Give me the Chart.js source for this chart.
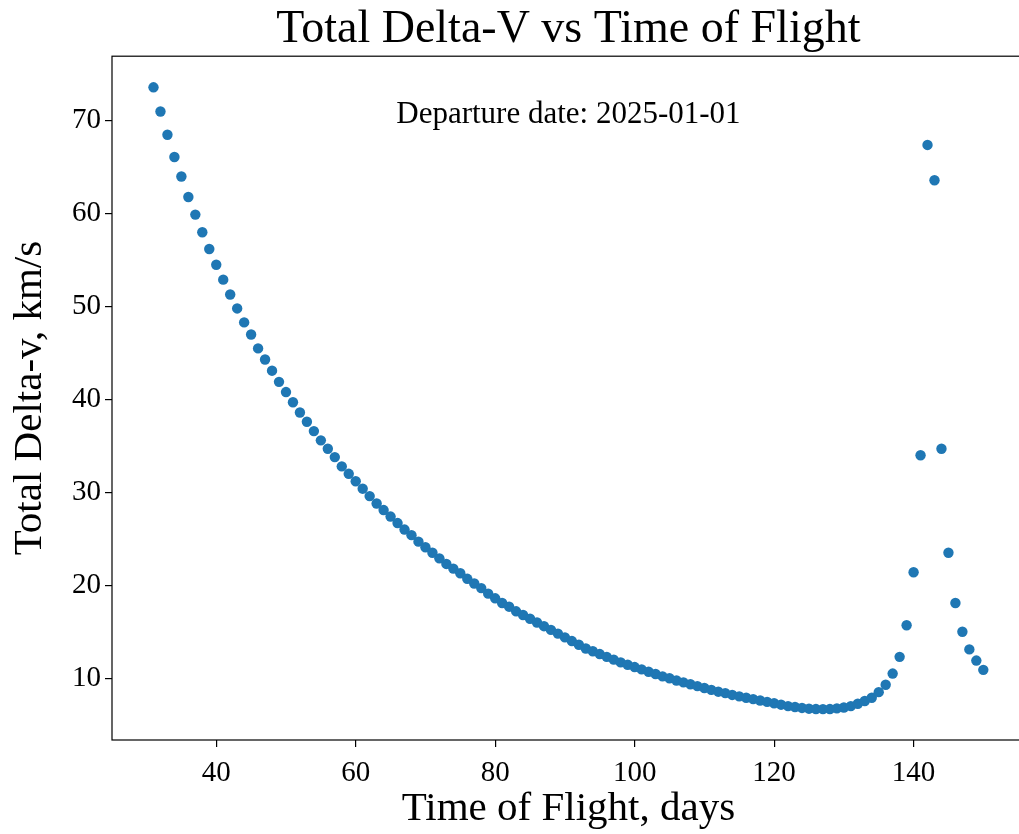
<!DOCTYPE html>
<html>
<head>
<meta charset="utf-8">
<title>Total Delta-V vs Time of Flight</title>
<script src="https://cdn.jsdelivr.net/npm/chart.js"></script>
<style>
  html, body { margin: 0; padding: 0; background: #fff; overflow: hidden; }
  #wrap { width: 1030px; height: 834px; }
</style>
</head>
<body>
<div id="wrap"><canvas id="myChart" width="1030" height="834"></canvas></div>
<script>
// time of flight in days, departure 2025-01-01
const tofDays = [];
for (let d = 31; d <= 150; d++) tofDays.push(d);

// total delta-v (km/s) for each time of flight
const totalDv = [
  73.6, 71.0, 68.5, 66.1, 64.0, 61.8, 59.9, 58.0, 56.2, 54.5,   // 31-40
  52.9, 51.3, 49.8, 48.3, 47.0, 45.5, 44.3, 43.1, 41.9, 40.8,   // 41-50
  39.7, 38.6, 37.6, 36.6, 35.6, 34.7, 33.8, 32.8, 32.0, 31.2,   // 51-60
  30.4, 29.6, 28.8, 28.1, 27.4, 26.7, 26.0, 25.4, 24.7, 24.1,   // 61-70
  23.5, 22.9, 22.3, 21.8, 21.3, 20.7, 20.2, 19.7, 19.1, 18.6,   // 71-80
  18.1, 17.7, 17.2, 16.8, 16.4, 16.0, 15.6, 15.2, 14.8, 14.4,   // 81-90
  14.0, 13.6, 13.2, 12.9, 12.6, 12.3, 12.0, 11.7, 11.45, 11.2,  // 91-100
  10.95, 10.7, 10.45, 10.2, 10.0, 9.75, 9.55, 9.35, 9.15, 8.95, // 101-110
  8.75, 8.55, 8.4, 8.2, 8.05, 7.9, 7.75, 7.6, 7.45, 7.3,        // 111-120
  7.15, 7.0, 6.9, 6.8, 6.72, 6.68, 6.67, 6.68, 6.75, 6.85,      // 121-130
  7.0, 7.25, 7.55, 7.9, 8.5, 9.3, 10.5, 12.3, 15.7, 21.4,       // 131-140
  34.0, 67.4, 63.6, 34.7, 23.5, 18.1, 15.0, 13.1, 11.9, 10.9    // 141-150
];

const xTicks = [40, 60, 80, 100, 120, 140];
const yTicks = [10, 20, 30, 40, 50, 60, 70];

const serif = "'Liberation Serif', 'Times New Roman', serif";

const points = tofDays.map((d, i) => ({ x: d, y: totalDv[i] }));

// axes box plus the departure date note
const frame = {
  id: 'frame',
  afterDraw(chart) {
    const { ctx, chartArea: a } = chart;
    ctx.save();
    ctx.strokeStyle = '#000';
    ctx.lineWidth = 1.2;
    ctx.strokeRect(a.left, a.top, a.right - a.left, a.bottom - a.top);
    ctx.fillStyle = '#000';
    ctx.font = '31px ' + serif;
    ctx.textAlign = 'center';
    ctx.textBaseline = 'middle';
    ctx.fillText('Departure date: 2025-01-01', (a.left + a.right) / 2,
      a.top + 0.086 * (a.bottom - a.top));
    ctx.restore();
  }
};

new Chart(document.getElementById('myChart'), {
  type: 'scatter',
  data: {
    datasets: [{
      data: points,
      backgroundColor: '#1f77b4',
      borderWidth: 0,
      pointRadius: 5.2,
      pointHoverRadius: 5.2
    }]
  },
  options: {
    responsive: false,
    animation: false,
    layout: { padding: { left: 0, right: 2, top: 0, bottom: 0 } },
    plugins: {
      legend: { display: false },
      tooltip: { enabled: false },
      title: {
        display: true,
        fullSize: false,
        text: 'Total Delta-V vs Time of Flight',
        color: '#000',
        font: { family: serif, size: 46, weight: 'normal' },
        padding: { top: 2, bottom: -1 }
      }
    },
    scales: {
      x: {
        type: 'linear',
        min: 25.05,
        max: 155.95,
        afterBuildTicks: s => { s.ticks = xTicks.map(v => ({ value: v })); },
        afterFit: s => { s.height = 94; },
        grid: { display: true, drawOnChartArea: false, drawTicks: true, tickLength: 7, color: '#000', lineWidth: 1.2 },
        border: { display: false },
        ticks: { color: '#000', font: { family: serif, size: 29 }, padding: 9, maxRotation: 0 },
        title: {
          display: true,
          text: 'Time of Flight, days',
          color: '#000',
          font: { family: serif, size: 41 },
          padding: { top: 1, bottom: 0 }
        }
      },
      y: {
        min: 3.35,
        max: 76.95,
        afterBuildTicks: s => { s.ticks = yTicks.map(v => ({ value: v })); },
        afterFit: s => { s.width = 112; },
        grid: { display: true, drawOnChartArea: false, drawTicks: true, tickLength: 7, color: '#000', lineWidth: 1.2 },
        border: { display: false },
        ticks: { color: '#000', font: { family: serif, size: 29 }, padding: 4 },
        title: {
          display: true,
          text: 'Total Delta-v, km/s',
          color: '#000',
          font: { family: serif, size: 41 },
          padding: { top: 6, bottom: 0 }
        }
      }
    }
  },
  plugins: [frame]
});
</script>
</body>
</html>
